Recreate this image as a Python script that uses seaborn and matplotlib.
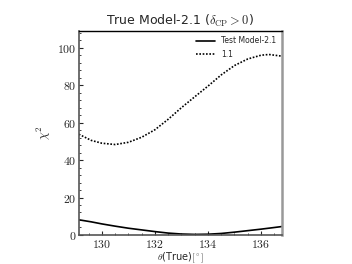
import numpy as np
import pandas as pd
import seaborn as sns
import matplotlib
matplotlib.use('Agg')
import matplotlib.pyplot as plt
from matplotlib.ticker import MultipleLocator, FuncFormatter

sns.set_style('ticks')
plt.rcParams['mathtext.fontset'] = 'cm'
plt.rcParams['font.family'] = ['DejaVu Sans']

# valores
theta_11 = [129.13, 129.6, 130.0, 130.5, 131.0, 131.5, 132.0, 132.5, 133.0, 133.5,
            134.0, 134.5, 135.0, 135.5, 136.0, 136.3, 136.79]
chi2_11 = [53.8, 50.5, 49.0, 48.3, 49.5, 52.2, 56.2, 61.8, 68.0, 73.8,
           79.5, 85.5, 90.5, 94.0, 96.0, 96.4, 95.5]

theta_21 = [129.13, 129.6, 130.0, 130.5, 131.0, 131.5, 132.0, 132.5, 133.0, 133.5,
            134.0, 134.5, 135.0, 135.5, 136.0, 136.4, 136.79]
chi2_21 = [8.1, 7.0, 5.9, 4.7, 3.6, 2.7, 1.8, 1.0, 0.5, 0.3,
           0.4, 0.8, 1.5, 2.3, 3.1, 3.8, 4.5]

df = pd.concat([
    pd.DataFrame({'theta': theta_21, 'chi2': chi2_21, 'modelo': 'Test Model-2.1'}),
    pd.DataFrame({'theta': theta_11, 'chi2': chi2_11, 'modelo': '1.1'}),
])

fig = plt.figure(figsize=(3.52, 2.64), dpi=100)
ax = fig.add_axes([0.224, 0.11, 0.577, 0.773])

sns.lineplot(data=df, x='theta', y='chi2', hue='modelo', style='modelo',
             palette=['black', 'black'], dashes=[(None, None), (1, 1)],
             linewidth=1.2, ax=ax, sort=False)

ax.set_xlim(129.13, 136.79)
ax.set_ylim(0, 109)
ax.xaxis.set_major_locator(MultipleLocator(2))
ax.xaxis.set_minor_locator(MultipleLocator(0.5))
ax.yaxis.set_major_locator(MultipleLocator(20))
ax.yaxis.set_minor_locator(MultipleLocator(4))
fmt = FuncFormatter(lambda v, p: r'$%d$' % v)
ax.xaxis.set_major_formatter(fmt)
ax.yaxis.set_major_formatter(fmt)
ax.tick_params(which='major', direction='in', length=3, width=0.8, labelsize=8.5, pad=2)
ax.tick_params(which='minor', direction='in', length=1.5, width=0.6)

for s in ['left', 'bottom']:
    ax.spines[s].set_color('#555555')
    ax.spines[s].set_linewidth(1.2)
ax.spines['top'].set_color('black')
ax.spines['top'].set_linewidth(1.0)
ax.spines['right'].set_color('#999999')
ax.spines['right'].set_linewidth(1.8)

ax.set_xlabel(r'$\theta$(True)$[^\circ]$', fontsize=7, labelpad=0)
ax.set_ylabel(r'$\chi^2$', fontsize=9, labelpad=3)
ax.set_title(r'True Model-2.1 ($\delta_{\rm CP}>0$)', fontsize=9, pad=4)

leg = ax.legend(loc='upper right', frameon=False, fontsize=5.5, handlelength=2.5,
                borderaxespad=0.3, labelspacing=0.6)

plt.savefig('out.png', dpi=100)
